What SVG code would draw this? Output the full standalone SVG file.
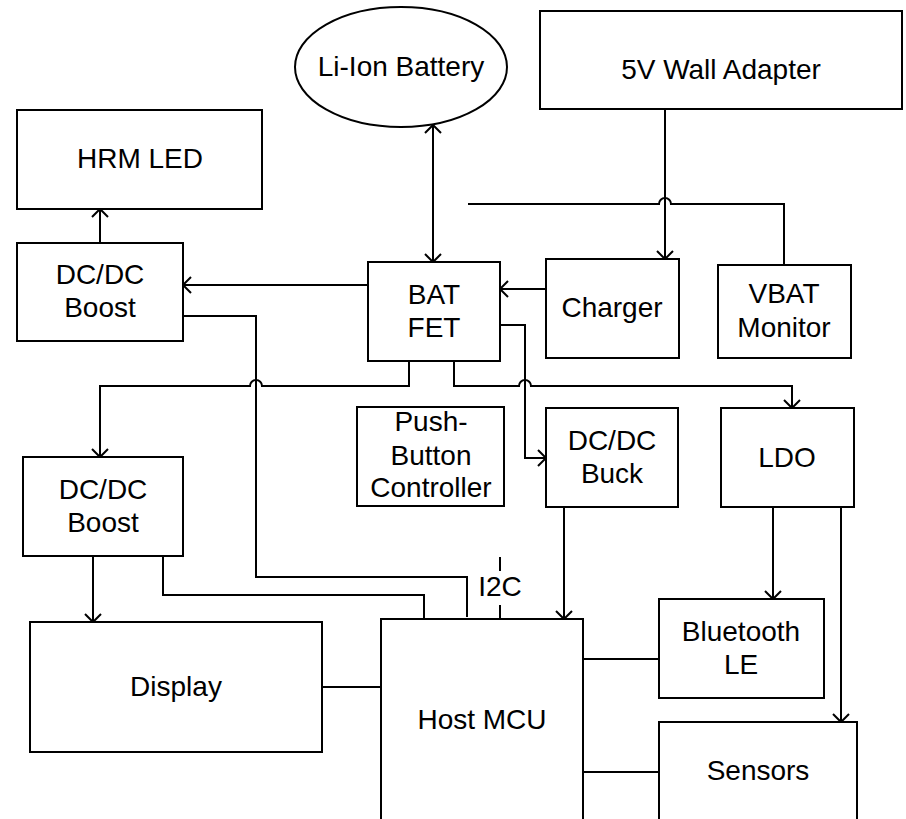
<svg xmlns="http://www.w3.org/2000/svg" width="906" height="819" viewBox="0 0 906 819">
<style>
.box{fill:#fff;stroke:#000;stroke-width:2}
.t{font-family:"Liberation Sans",Arial,sans-serif;font-size:28px;text-anchor:middle;fill:#000}
.c{fill:none;stroke:#000;stroke-width:2}
.a{marker-end:url(#arr)}
</style>
<defs>
<marker id="arr" markerUnits="userSpaceOnUse" viewBox="-10 -10 20 20" markerWidth="20" markerHeight="20" refX="0" refY="0" orient="auto-start-reverse" overflow="visible">
<path d="M-8,-8 L0,0 L-8,8" fill="none" stroke="#000" stroke-width="2"/>
</marker>
</defs>
<rect width="906" height="819" fill="#fff"/>
<g id="connectors">
<path class="c" d="M433,125 V262" marker-start="url(#arr)" marker-end="url(#arr)"/>
<path class="c a" d="M665,109 V259"/>
<path class="c" d="M468,204 H659 A6,6 0 0 1 671,204 H784 V265"/>
<path class="c a" d="M546,289 H500"/>
<path class="c a" d="M368,285 H183"/>
<path class="c a" d="M100,243 V209"/>
<path class="c" d="M183,316 H256 V577 H467 V617"/>
<path class="c a" d="M409,361 V386 H262 A6,6 0 0 0 250,386 H100 V457"/>
<path class="c a" d="M454,361 V386 H519 A6,6 0 0 1 531,386 H792 V408"/>
<path class="c a" d="M500,325 H525 V458 H546"/>
<path class="c a" d="M564,507 V619"/>
<path class="c a" d="M773,507 V599"/>
<path class="c a" d="M841,507 V722"/>
<path class="c a" d="M93,556 V622"/>
<path class="c" d="M163,556 V595 H424 V619"/>
<path class="c" d="M322,687 H381"/>
<path class="c" d="M583,659 H659"/>
<path class="c" d="M583,772 H659"/>
<path class="c" d="M500,557 V571 M500,605 V619"/>
<text class="t" x="500" y="596">I2C</text>
</g>
<g id="battery"><ellipse class="box" cx="401" cy="67" rx="106" ry="60"/><text class="t" x="401" y="76">Li-Ion Battery</text></g>
<g id="wall"><rect class="box" x="540" y="11" width="362" height="98"/><text class="t" x="721" y="79">5V Wall Adapter</text></g>
<g id="hrm"><rect class="box" x="17" y="110" width="245" height="99"/><text class="t" x="140" y="168">HRM LED</text></g>
<g id="boost1"><rect class="box" x="17" y="243" width="166" height="98"/><text class="t" x="100" y="284">DC/DC</text><text class="t" x="100" y="317">Boost</text></g>
<g id="batfet"><rect class="box" x="368" y="262" width="132" height="99"/><text class="t" x="434" y="304">BAT</text><text class="t" x="434" y="337">FET</text></g>
<g id="charger"><rect class="box" x="546" y="259" width="133" height="99"/><text class="t" x="612" y="317">Charger</text></g>
<g id="vbat"><rect class="box" x="718" y="265" width="133" height="93"/><text class="t" x="784" y="303">VBAT</text><text class="t" x="784" y="337">Monitor</text></g>
<g id="pushbutton"><rect class="box" x="357" y="407" width="147" height="99"/><text class="t" x="431" y="431">Push-</text><text class="t" x="431" y="465">Button</text><text class="t" x="431" y="497">Controller</text></g>
<g id="buck"><rect class="box" x="546" y="408" width="132" height="99"/><text class="t" x="612" y="450">DC/DC</text><text class="t" x="612" y="483">Buck</text></g>
<g id="ldo"><rect class="box" x="721" y="408" width="133" height="99"/><text class="t" x="787" y="467">LDO</text></g>
<g id="boost2"><rect class="box" x="23" y="457" width="160" height="99"/><text class="t" x="103" y="499">DC/DC</text><text class="t" x="103" y="532">Boost</text></g>
<g id="display"><rect class="box" x="30" y="622" width="292" height="130"/><text class="t" x="176" y="696">Display</text></g>
<g id="mcu"><rect class="box" x="381" y="619" width="202" height="220"/><text class="t" x="482" y="729">Host MCU</text></g>
<g id="ble"><rect class="box" x="659" y="599" width="165" height="99"/><text class="t" x="741" y="641">Bluetooth</text><text class="t" x="741" y="674">LE</text></g>
<g id="sensors"><rect class="box" x="659" y="722" width="198" height="120"/><text class="t" x="758" y="780">Sensors</text></g>
</svg>
